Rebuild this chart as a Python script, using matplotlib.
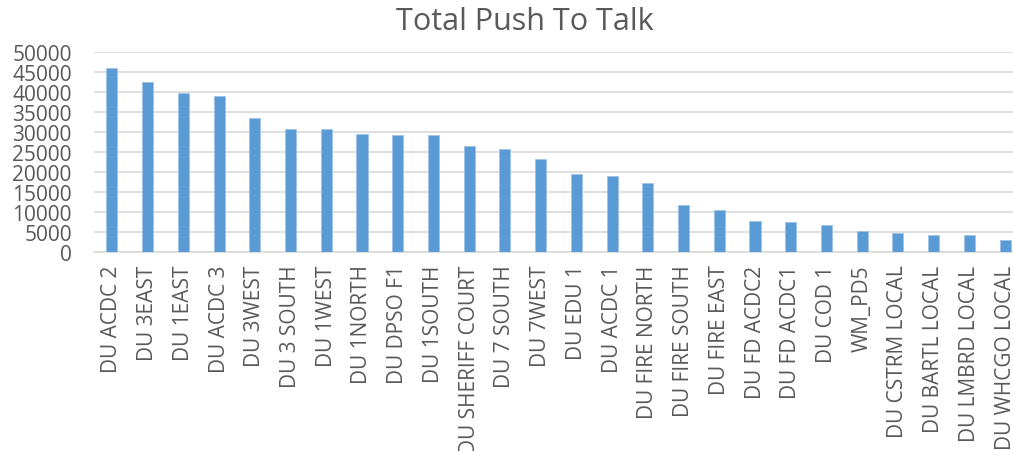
import numpy as np
import matplotlib.pyplot as plt

plt.rcParams['font.family'] = ['Open Sans', 'DejaVu Sans']

categories = ['DU ACDC 2', 'DU 3EAST', 'DU 1EAST', 'DU ACDC 3', 'DU 3WEST',
              'DU 3 SOUTH', 'DU 1WEST', 'DU 1NORTH', 'DU DPSO F1', 'DU 1SOUTH',
              'DU SHERIFF COURT', 'DU 7 SOUTH', 'DU 7WEST', 'DU EDU 1', 'DU ACDC 1',
              'DU FIRE NORTH', 'DU FIRE SOUTH', 'DU FIRE EAST', 'DU FD ACDC2',
              'DU FD ACDC1', 'DU COD 1', 'WM_PD5', 'DU CSTRM LOCAL',
              'DU BARTL LOCAL', 'DU LMBRD LOCAL', 'DU WHCGO LOCAL']
values = [45900, 42400, 39750, 39000, 33400, 30800, 30650, 29600, 29250, 29200,
          26600, 25750, 23250, 19600, 19100, 17250, 11700, 10400, 7750, 7400,
          6650, 5150, 4800, 4250, 4150, 3100]
yticks = [0, 5000, 10000, 15000, 20000, 25000, 30000, 35000, 40000, 45000, 50000]

grey = '#595959'

fig = plt.figure(figsize=(10.13, 4.52), dpi=100)
ax = fig.add_axes([94 / 1013, 199 / 452, 929 / 1013, 200 / 452])

x = np.arange(len(categories))
ax.bar(x, values, width=0.31, color='#5B9BD5', edgecolor='#9DC3E6', linewidth=0.6, zorder=3)

ax.set_xlim(-0.5, len(categories) - 0.5)
ax.set_ylim(0, 50000)
ax.set_yticks(yticks)
ax.set_yticklabels([str(v) for v in yticks], fontsize=15, color=grey)
ax.set_xticks(x)
ax.set_xticklabels(categories, rotation=90, fontsize=15, color=grey, va='top')
ax.tick_params(axis='both', length=0)
ax.tick_params(axis='x', pad=9)
ax.tick_params(axis='y', pad=16)

ax.yaxis.grid(True, color='#D9D9D9', linewidth=1.2, zorder=0)
for s in ['top', 'right', 'left']:
    ax.spines[s].set_visible(False)
ax.spines['bottom'].set_color('#D9D9D9')
ax.spines['bottom'].set_linewidth(1.2)

fig.text(525 / 1013, 1 - 22 / 452, 'Total Push To Talk', ha='center', va='center',
         fontsize=22, color=grey)

fig.savefig('out.png', dpi=100)
